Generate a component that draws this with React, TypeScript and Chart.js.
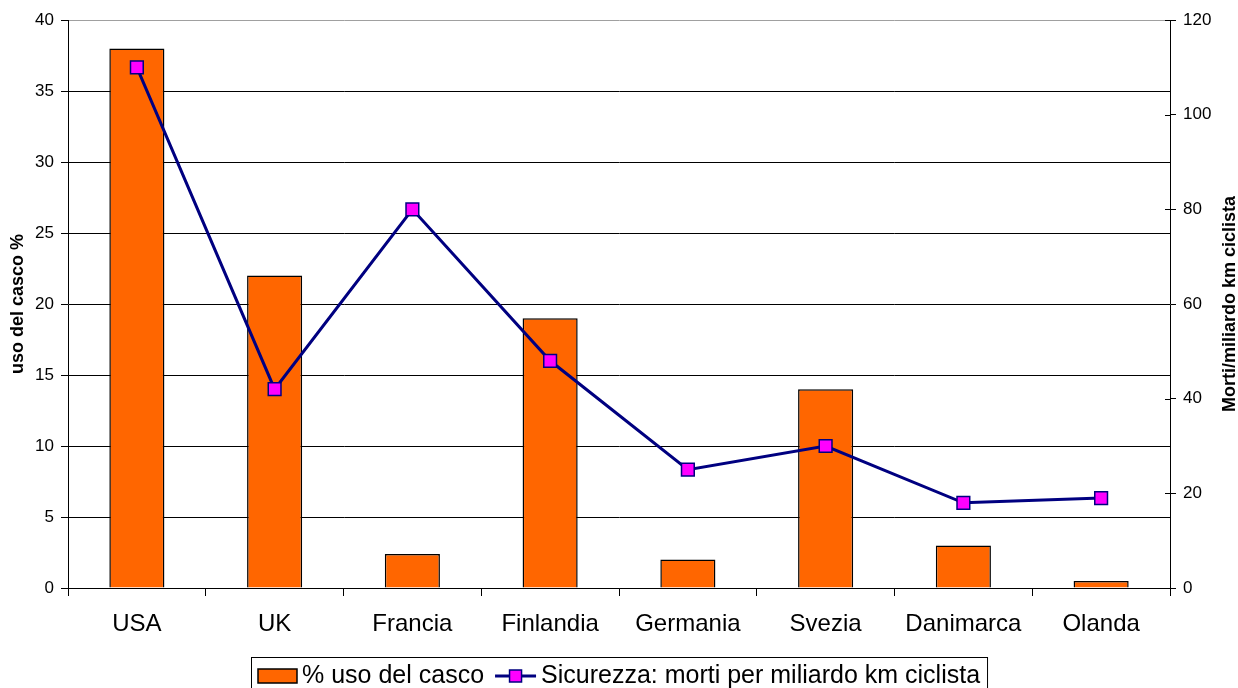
import React, { useEffect, useRef } from "react";
import { Chart, registerables } from "chart.js";

Chart.register(...registerables);

const categories = ["USA", "UK", "Francia", "Finlandia", "Germania", "Svezia", "Danimarca", "Olanda"];
const helmetUse = [38, 22, 2.4, 19, 2, 14, 3, 0.5];
const deathsPerBillionKm = [110, 42, 80, 48, 25, 30, 18, 19];
const barLabel = "% uso del casco";
const lineLabel = "Sicurezza: morti per miliardo km ciclista";
const leftTitle = "uso del casco %";
const rightTitle = "Morti/miliardo km ciclista";

const FONT = '"Liberation Sans", Arial, sans-serif';
const ORANGE = "#FF6600";
const NAVY = "#000080";
const MAGENTA = "#FF00FF";

const customPlugin = {
  id: "customDecor",
  afterDraw(chart: any) {
    const ctx = chart.ctx;
    const area = chart.chartArea;
    ctx.save();
    // right axis cross ticks (inner part)
    const y1 = chart.scales.y1;
    ctx.strokeStyle = "#000";
    ctx.lineWidth = 1;
    y1.ticks.forEach((t: any) => {
      const py = Math.round(y1.getPixelForValue(t.value)) + 0.5;
      ctx.beginPath();
      ctx.moveTo(area.right - 5, py);
      ctx.lineTo(area.right, py);
      ctx.stroke();
    });
    // axis titles
    ctx.fillStyle = "#000";
    ctx.font = `bold 18px ${FONT}`;
    ctx.textAlign = "center";
    ctx.textBaseline = "middle";
    const cy = (area.top + area.bottom) / 2;
    ctx.save();
    ctx.translate(18, cy);
    ctx.rotate(-Math.PI / 2);
    ctx.fillText(leftTitle, 0, 0);
    ctx.restore();
    ctx.save();
    ctx.translate(1230, cy);
    ctx.rotate(-Math.PI / 2);
    ctx.fillText(rightTitle, 0, 0);
    ctx.restore();

    // legend
    ctx.font = `25px ${FONT}`;
    ctx.textAlign = "left";
    const w1 = ctx.measureText(barLabel).width;
    const w2 = ctx.measureText(lineLabel).width;
    const sw = 39;
    const lineW = 41;
    const gap = 5;
    const between = 11;
    const padX = 7;
    const total = padX + sw + gap + w1 + between + lineW + gap + w2 + padX;
    const bx = Math.round((chart.width - total) / 2);
    const by = 657;
    const bh = 40;
    ctx.strokeStyle = "#000";
    ctx.lineWidth = 1;
    ctx.strokeRect(bx + 0.5, by + 0.5, total, bh);
    const ly = 676;
    let x = bx + padX;
    ctx.fillStyle = ORANGE;
    ctx.fillRect(x, 669, sw, 14);
    ctx.lineWidth = 1.5;
    ctx.strokeRect(x, 669, sw, 14);
    x += sw + gap;
    ctx.fillStyle = "#000";
    ctx.fillText(barLabel, x, ly);
    x += w1 + between;
    ctx.strokeStyle = NAVY;
    ctx.lineWidth = 3;
    ctx.beginPath();
    ctx.moveTo(x, ly);
    ctx.lineTo(x + lineW, ly);
    ctx.stroke();
    ctx.fillStyle = MAGENTA;
    ctx.fillRect(x + lineW / 2 - 6, ly - 6, 12, 12);
    ctx.lineWidth = 1.5;
    ctx.strokeRect(x + lineW / 2 - 6, ly - 6, 12, 12);
    x += lineW + gap;
    ctx.fillStyle = "#000";
    ctx.fillText(lineLabel, x, ly);
    ctx.restore();
  },
};

export default function App() {
  const ref = useRef<HTMLCanvasElement>(null);
  useEffect(() => {
    document.body.style.margin = "0";
    const canvas = ref.current!;
    const chart = new Chart(canvas, {
      data: {
        labels: categories,
        datasets: [
          {
            type: "line",
            label: lineLabel,
            data: deathsPerBillionKm,
            yAxisID: "y1",
            borderColor: NAVY,
            borderWidth: 3,
            pointStyle: "rect",
            pointRadius: 9,
            pointBackgroundColor: MAGENTA,
            pointBorderColor: NAVY,
            pointBorderWidth: 1.5,
            tension: 0,
            order: 0,
          },
          {
            type: "bar",
            label: barLabel,
            data: helmetUse,
            yAxisID: "y",
            backgroundColor: ORANGE,
            borderColor: "#000",
            borderWidth: 1.5,
            barPercentage: 0.4,
            categoryPercentage: 1.0,
            order: 1,
          },
        ],
      } as any,
      options: {
        responsive: false,
        animation: false,
        layout: { padding: { top: 20, left: 0, right: 0, bottom: 0 } },
        plugins: { legend: { display: false }, tooltip: { enabled: false } },
        scales: {
          x: {
            offset: true,
            grid: { drawOnChartArea: false, drawTicks: true, tickLength: 8, color: "#000", offset: true },
            border: { color: "#000", width: 1 },
            ticks: { color: "#000", font: { family: FONT, size: 24 }, padding: 14, maxRotation: 0 },
            afterFit: (s: any) => { s.height = 100; },
          },
          y: {
            position: "left",
            min: 0,
            max: 40,
            ticks: { stepSize: 5, color: "#000", font: { family: FONT, size: 17 }, padding: 7 },
            grid: {
              color: (c: any) => (c.tick && c.tick.value === 40 ? "#a0a0a0" : "#000"),
              tickColor: "#000",
              tickLength: 7,
              lineWidth: 1,
            },
            border: { color: "#000", width: 1 },
            afterFit: (s: any) => { s.width = 68; },
          },
          y1: {
            position: "right",
            min: 0,
            max: 120,
            ticks: { stepSize: 20, color: "#000", font: { family: FONT, size: 17 }, padding: 7 },
            grid: { drawOnChartArea: false, tickColor: "#000", tickLength: 6 },
            border: { color: "#000", width: 1 },
            afterFit: (s: any) => { s.width = 68; },
          },
        },
      } as any,
      plugins: [customPlugin],
    });
    return () => chart.destroy();
  }, []);
  return <canvas ref={ref} width={1238} height={688} style={{ display: "block" }} />;
}
